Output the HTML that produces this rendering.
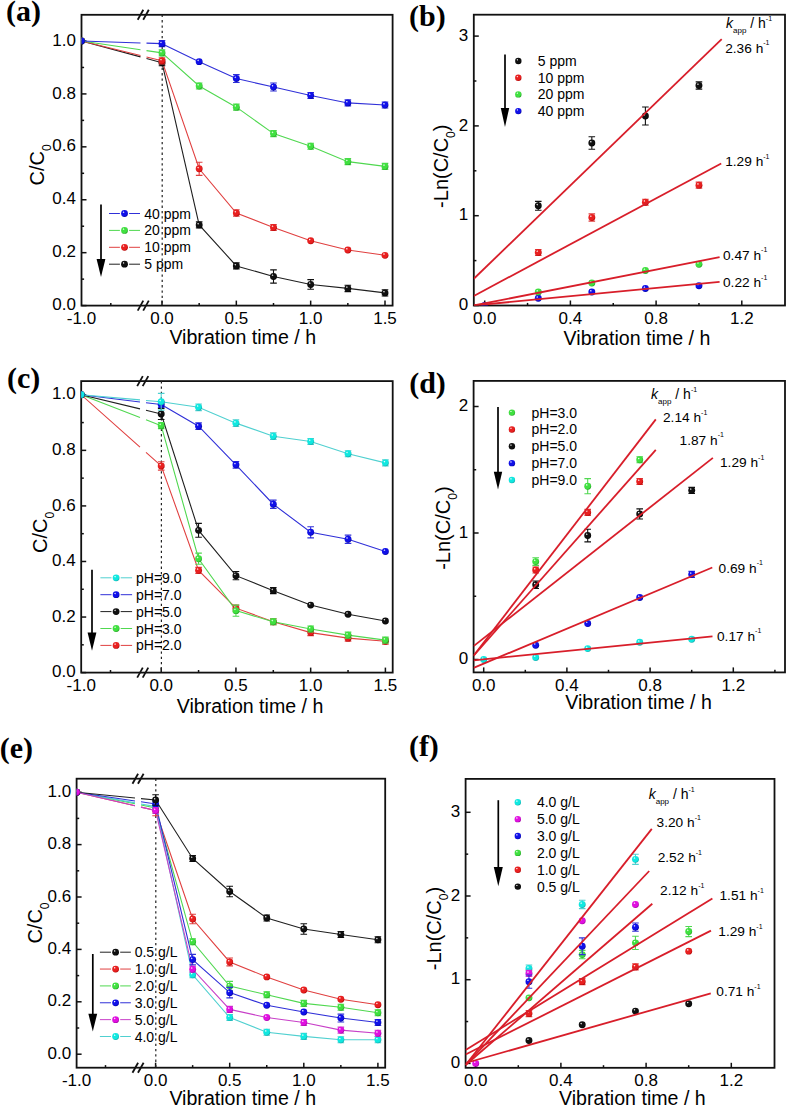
<!DOCTYPE html>
<html><head><meta charset="utf-8"><style>html,body{margin:0;padding:0;background:#fff;width:787px;height:1106px;overflow:hidden;position:relative}</style></head><body>
<svg width="787" height="1106" viewBox="0 0 787 1106" style="position:absolute;left:0;top:0">
<defs><radialGradient id="g_blue" cx="0.42" cy="0.4" r="0.62" fx="0.34" fy="0.3"><stop offset="0" stop-color="#ffffff" stop-opacity="0.95"/><stop offset="0.28" stop-color="#1010e8"/><stop offset="0.75" stop-color="#1010e8"/><stop offset="1" stop-color="#0000a0"/></radialGradient><radialGradient id="g_green" cx="0.42" cy="0.4" r="0.62" fx="0.34" fy="0.3"><stop offset="0" stop-color="#ffffff" stop-opacity="0.95"/><stop offset="0.28" stop-color="#40e040"/><stop offset="0.75" stop-color="#40e040"/><stop offset="1" stop-color="#20a020"/></radialGradient><radialGradient id="g_red" cx="0.42" cy="0.4" r="0.62" fx="0.34" fy="0.3"><stop offset="0" stop-color="#ffffff" stop-opacity="0.95"/><stop offset="0.28" stop-color="#e82020"/><stop offset="0.75" stop-color="#e82020"/><stop offset="1" stop-color="#b00000"/></radialGradient><radialGradient id="g_black" cx="0.42" cy="0.4" r="0.62" fx="0.34" fy="0.3"><stop offset="0" stop-color="#ffffff" stop-opacity="0.95"/><stop offset="0.28" stop-color="#101010"/><stop offset="0.75" stop-color="#101010"/><stop offset="1" stop-color="#000000"/></radialGradient><radialGradient id="g_cyan" cx="0.42" cy="0.4" r="0.62" fx="0.34" fy="0.3"><stop offset="0" stop-color="#ffffff" stop-opacity="0.95"/><stop offset="0.28" stop-color="#10e8e0"/><stop offset="0.75" stop-color="#10e8e0"/><stop offset="1" stop-color="#10a8a8"/></radialGradient><radialGradient id="g_mag" cx="0.42" cy="0.4" r="0.62" fx="0.34" fy="0.3"><stop offset="0" stop-color="#ffffff" stop-opacity="0.95"/><stop offset="0.28" stop-color="#e010e0"/><stop offset="0.75" stop-color="#e010e0"/><stop offset="1" stop-color="#a000a0"/></radialGradient></defs>
<rect width="787" height="1106" fill="#fff"/>
<text x="5.90" y="21.00" font-family='"Liberation Serif", serif' font-size="30" text-anchor="start" font-weight="bold" font-style="normal" >(a)</text>
<rect x="81.50" y="14.80" width="311.10" height="290.80" fill="none" stroke="#111111" stroke-width="1.8"/>
<line x1="81.50" y1="305.60" x2="86.50" y2="305.60" stroke="#111111" stroke-width="1.5"/>
<text x="76.00" y="310.20" font-family='"Liberation Sans", sans-serif' font-size="17" text-anchor="end" font-weight="normal" font-style="normal" >0.0</text>
<line x1="81.50" y1="252.68" x2="86.50" y2="252.68" stroke="#111111" stroke-width="1.5"/>
<text x="76.00" y="257.28" font-family='"Liberation Sans", sans-serif' font-size="17" text-anchor="end" font-weight="normal" font-style="normal" >0.2</text>
<line x1="81.50" y1="199.76" x2="86.50" y2="199.76" stroke="#111111" stroke-width="1.5"/>
<text x="76.00" y="204.36" font-family='"Liberation Sans", sans-serif' font-size="17" text-anchor="end" font-weight="normal" font-style="normal" >0.4</text>
<line x1="81.50" y1="146.84" x2="86.50" y2="146.84" stroke="#111111" stroke-width="1.5"/>
<text x="76.00" y="151.44" font-family='"Liberation Sans", sans-serif' font-size="17" text-anchor="end" font-weight="normal" font-style="normal" >0.6</text>
<line x1="81.50" y1="93.92" x2="86.50" y2="93.92" stroke="#111111" stroke-width="1.5"/>
<text x="76.00" y="98.52" font-family='"Liberation Sans", sans-serif' font-size="17" text-anchor="end" font-weight="normal" font-style="normal" >0.8</text>
<line x1="81.50" y1="41.00" x2="86.50" y2="41.00" stroke="#111111" stroke-width="1.5"/>
<text x="76.00" y="45.60" font-family='"Liberation Sans", sans-serif' font-size="17" text-anchor="end" font-weight="normal" font-style="normal" >1.0</text>
<line x1="81.50" y1="279.14" x2="84.10" y2="279.14" stroke="#111111" stroke-width="1.5"/>
<line x1="81.50" y1="226.22" x2="84.10" y2="226.22" stroke="#111111" stroke-width="1.5"/>
<line x1="81.50" y1="173.30" x2="84.10" y2="173.30" stroke="#111111" stroke-width="1.5"/>
<line x1="81.50" y1="120.38" x2="84.10" y2="120.38" stroke="#111111" stroke-width="1.5"/>
<line x1="81.50" y1="67.46" x2="84.10" y2="67.46" stroke="#111111" stroke-width="1.5"/>
<text x="81.50" y="324.10" font-family='"Liberation Sans", sans-serif' font-size="17" text-anchor="middle" font-weight="normal" font-style="normal" >-1.0</text>
<line x1="162.00" y1="305.60" x2="162.00" y2="300.60" stroke="#111111" stroke-width="1.5"/>
<text x="162.00" y="324.10" font-family='"Liberation Sans", sans-serif' font-size="17" text-anchor="middle" font-weight="normal" font-style="normal" >0.0</text>
<line x1="236.33" y1="305.60" x2="236.33" y2="300.60" stroke="#111111" stroke-width="1.5"/>
<text x="236.33" y="324.10" font-family='"Liberation Sans", sans-serif' font-size="17" text-anchor="middle" font-weight="normal" font-style="normal" >0.5</text>
<line x1="310.67" y1="305.60" x2="310.67" y2="300.60" stroke="#111111" stroke-width="1.5"/>
<text x="310.67" y="324.10" font-family='"Liberation Sans", sans-serif' font-size="17" text-anchor="middle" font-weight="normal" font-style="normal" >1.0</text>
<line x1="385.00" y1="305.60" x2="385.00" y2="300.60" stroke="#111111" stroke-width="1.5"/>
<text x="385.00" y="324.10" font-family='"Liberation Sans", sans-serif' font-size="17" text-anchor="middle" font-weight="normal" font-style="normal" >1.5</text>
<line x1="199.17" y1="305.60" x2="199.17" y2="303.00" stroke="#111111" stroke-width="1.5"/>
<line x1="273.50" y1="305.60" x2="273.50" y2="303.00" stroke="#111111" stroke-width="1.5"/>
<line x1="347.84" y1="305.60" x2="347.84" y2="303.00" stroke="#111111" stroke-width="1.5"/>
<line x1="110.80" y1="305.60" x2="110.80" y2="303.00" stroke="#111111" stroke-width="1.5"/>
<line x1="162.20" y1="14.80" x2="162.20" y2="305.60" stroke="#222" stroke-width="1.2" stroke-dasharray="2.3,3.0"/>
<line x1="137.70" y1="19.80" x2="143.30" y2="9.80" stroke="#111111" stroke-width="1.8"/>
<line x1="143.20" y1="19.80" x2="148.80" y2="9.80" stroke="#111111" stroke-width="1.8"/>
<line x1="137.70" y1="310.60" x2="143.30" y2="300.60" stroke="#111111" stroke-width="1.8"/>
<line x1="143.20" y1="310.60" x2="148.80" y2="300.60" stroke="#111111" stroke-width="1.8"/>
<text x="169.40" y="343.60" font-family='"Liberation Sans", sans-serif' font-size="20" text-anchor="start" font-weight="normal" font-style="normal" textLength="146.7" lengthAdjust="spacingAndGlyphs">Vibration time / h</text>
<text transform="translate(43.90,185.40) rotate(-90)" font-family='"Liberation Sans", sans-serif' font-size="20" text-anchor="start">C/C<tspan font-size="12" dy="7">0</tspan></text>
<clipPath id="cp1"><rect x="81.50" y="14.80" width="311.10" height="290.80"/></clipPath><g clip-path="url(#cp1)">
<path d="M81.50 41.00L140.50 56.90M146.50 58.52L162.00 62.70" stroke="#202020" stroke-width="1.1" fill="none"/>
<path d="M162.00 62.70 L199.17 224.90 L236.33 265.91 L273.50 276.49 L310.67 284.43 L347.84 288.40 L385.00 292.90" stroke="#202020" stroke-width="1.1" fill="none"/>
<path d="M81.50 41.00L140.50 55.54M146.50 57.02L162.00 60.84" stroke="#e04040" stroke-width="1.1" fill="none"/>
<path d="M162.00 60.84 L199.17 168.80 L236.33 212.99 L273.50 227.54 L310.67 240.77 L347.84 250.03 L385.00 255.33" stroke="#e04040" stroke-width="1.1" fill="none"/>
<path d="M81.50 41.00L140.50 49.73M146.50 50.61L162.00 52.91" stroke="#50d850" stroke-width="1.1" fill="none"/>
<path d="M162.00 52.91 L199.17 85.98 L236.33 107.15 L273.50 133.61 L310.67 146.31 L347.84 161.66 L385.00 166.42" stroke="#50d850" stroke-width="1.1" fill="none"/>
<path d="M81.50 41.00L140.50 42.94M146.50 43.14L162.00 43.65" stroke="#3030d8" stroke-width="1.1" fill="none"/>
<path d="M162.00 43.65 L199.17 61.64 L236.33 78.57 L273.50 87.04 L310.67 95.51 L347.84 102.92 L385.00 105.03" stroke="#3030d8" stroke-width="1.1" fill="none"/>
<circle cx="81.50" cy="41.00" r="3.45" fill="url(#g_black)"/>
<path d="M162.00 59.70V65.70M158.70 59.70H165.30M158.70 65.70H165.30" stroke="#111111" stroke-width="1.1" fill="none"/>
<circle cx="162.00" cy="62.70" r="3.45" fill="url(#g_black)"/>
<path d="M199.17 221.90V227.90M195.87 221.90H202.47M195.87 227.90H202.47" stroke="#111111" stroke-width="1.1" fill="none"/>
<circle cx="199.17" cy="224.90" r="3.45" fill="url(#g_black)"/>
<path d="M236.33 262.91V268.91M233.03 262.91H239.63M233.03 268.91H239.63" stroke="#111111" stroke-width="1.1" fill="none"/>
<circle cx="236.33" cy="265.91" r="3.45" fill="url(#g_black)"/>
<path d="M273.50 269.88V283.11M270.20 269.88H276.80M270.20 283.11H276.80" stroke="#111111" stroke-width="1.1" fill="none"/>
<circle cx="273.50" cy="276.49" r="3.45" fill="url(#g_black)"/>
<path d="M310.67 279.67V289.19M307.37 279.67H313.97M307.37 289.19H313.97" stroke="#111111" stroke-width="1.1" fill="none"/>
<circle cx="310.67" cy="284.43" r="3.45" fill="url(#g_black)"/>
<path d="M347.84 285.23V291.58M344.54 285.23H351.14M344.54 291.58H351.14" stroke="#111111" stroke-width="1.1" fill="none"/>
<circle cx="347.84" cy="288.40" r="3.45" fill="url(#g_black)"/>
<path d="M385.00 289.72V296.07M381.70 289.72H388.31M381.70 296.07H388.31" stroke="#111111" stroke-width="1.1" fill="none"/>
<circle cx="385.00" cy="292.90" r="3.45" fill="url(#g_black)"/>
<circle cx="81.50" cy="41.00" r="3.45" fill="url(#g_red)"/>
<path d="M162.00 57.84V63.84M158.70 57.84H165.30M158.70 63.84H165.30" stroke="#e04040" stroke-width="1.1" fill="none"/>
<circle cx="162.00" cy="60.84" r="3.45" fill="url(#g_red)"/>
<path d="M199.17 162.19V175.42M195.87 162.19H202.47M195.87 175.42H202.47" stroke="#e04040" stroke-width="1.1" fill="none"/>
<circle cx="199.17" cy="168.80" r="3.45" fill="url(#g_red)"/>
<path d="M236.33 209.81V216.17M233.03 209.81H239.63M233.03 216.17H239.63" stroke="#e04040" stroke-width="1.1" fill="none"/>
<circle cx="236.33" cy="212.99" r="3.45" fill="url(#g_red)"/>
<path d="M273.50 224.54V230.54M270.20 224.54H276.80M270.20 230.54H276.80" stroke="#e04040" stroke-width="1.1" fill="none"/>
<circle cx="273.50" cy="227.54" r="3.45" fill="url(#g_red)"/>
<circle cx="310.67" cy="240.77" r="3.45" fill="url(#g_red)"/>
<circle cx="347.84" cy="250.03" r="3.45" fill="url(#g_red)"/>
<circle cx="385.00" cy="255.33" r="3.45" fill="url(#g_red)"/>
<circle cx="81.50" cy="41.00" r="3.45" fill="url(#g_green)"/>
<path d="M162.00 49.91V55.91M158.70 49.91H165.30M158.70 55.91H165.30" stroke="#50d850" stroke-width="1.1" fill="none"/>
<circle cx="162.00" cy="52.91" r="3.45" fill="url(#g_green)"/>
<path d="M199.17 82.98V88.98M195.87 82.98H202.47M195.87 88.98H202.47" stroke="#50d850" stroke-width="1.1" fill="none"/>
<circle cx="199.17" cy="85.98" r="3.45" fill="url(#g_green)"/>
<path d="M236.33 104.15V110.15M233.03 104.15H239.63M233.03 110.15H239.63" stroke="#50d850" stroke-width="1.1" fill="none"/>
<circle cx="236.33" cy="107.15" r="3.45" fill="url(#g_green)"/>
<path d="M273.50 130.61V136.61M270.20 130.61H276.80M270.20 136.61H276.80" stroke="#50d850" stroke-width="1.1" fill="none"/>
<circle cx="273.50" cy="133.61" r="3.45" fill="url(#g_green)"/>
<path d="M310.67 143.31V149.31M307.37 143.31H313.97M307.37 149.31H313.97" stroke="#50d850" stroke-width="1.1" fill="none"/>
<circle cx="310.67" cy="146.31" r="3.45" fill="url(#g_green)"/>
<path d="M347.84 158.66V164.66M344.54 158.66H351.14M344.54 164.66H351.14" stroke="#50d850" stroke-width="1.1" fill="none"/>
<circle cx="347.84" cy="161.66" r="3.45" fill="url(#g_green)"/>
<path d="M385.00 163.42V169.42M381.70 163.42H388.31M381.70 169.42H388.31" stroke="#50d850" stroke-width="1.1" fill="none"/>
<circle cx="385.00" cy="166.42" r="3.45" fill="url(#g_green)"/>
<circle cx="81.50" cy="41.00" r="3.45" fill="url(#g_blue)"/>
<path d="M162.00 40.65V46.65M158.70 40.65H165.30M158.70 46.65H165.30" stroke="#3030d8" stroke-width="1.1" fill="none"/>
<circle cx="162.00" cy="43.65" r="3.45" fill="url(#g_blue)"/>
<circle cx="199.17" cy="61.64" r="3.45" fill="url(#g_blue)"/>
<path d="M236.33 74.60V82.54M233.03 74.60H239.63M233.03 82.54H239.63" stroke="#3030d8" stroke-width="1.1" fill="none"/>
<circle cx="236.33" cy="78.57" r="3.45" fill="url(#g_blue)"/>
<path d="M273.50 83.07V91.01M270.20 83.07H276.80M270.20 91.01H276.80" stroke="#3030d8" stroke-width="1.1" fill="none"/>
<circle cx="273.50" cy="87.04" r="3.45" fill="url(#g_blue)"/>
<path d="M310.67 92.51V98.51M307.37 92.51H313.97M307.37 98.51H313.97" stroke="#3030d8" stroke-width="1.1" fill="none"/>
<circle cx="310.67" cy="95.51" r="3.45" fill="url(#g_blue)"/>
<path d="M347.84 99.92V105.92M344.54 99.92H351.14M344.54 105.92H351.14" stroke="#3030d8" stroke-width="1.1" fill="none"/>
<circle cx="347.84" cy="102.92" r="3.45" fill="url(#g_blue)"/>
<path d="M385.00 102.03V108.03M381.70 102.03H388.31M381.70 108.03H388.31" stroke="#3030d8" stroke-width="1.1" fill="none"/>
<circle cx="385.00" cy="105.03" r="3.45" fill="url(#g_blue)"/>
</g>
<line x1="101.00" y1="204.60" x2="101.00" y2="261.00" stroke="#000" stroke-width="1.7"/>
<polygon points="96.60,259.00 105.40,259.00 101.00,277.00" fill="#000"/>
<path d="M109.00 213.50H119.90M129.10 213.50H140.00" stroke="#3030d8" stroke-width="1.0" fill="none"/>
<circle cx="124.50" cy="213.50" r="3.4" fill="url(#g_blue)"/>
<text x="144.30" y="218.50" font-family='"Liberation Sans", sans-serif' font-size="14" text-anchor="start" font-weight="normal" font-style="normal" >40 ppm</text>
<path d="M109.00 230.40H119.90M129.10 230.40H140.00" stroke="#50d850" stroke-width="1.0" fill="none"/>
<circle cx="124.50" cy="230.40" r="3.4" fill="url(#g_green)"/>
<text x="144.30" y="235.40" font-family='"Liberation Sans", sans-serif' font-size="14" text-anchor="start" font-weight="normal" font-style="normal" >20 ppm</text>
<path d="M109.00 247.30H119.90M129.10 247.30H140.00" stroke="#e04040" stroke-width="1.0" fill="none"/>
<circle cx="124.50" cy="247.30" r="3.4" fill="url(#g_red)"/>
<text x="144.30" y="252.30" font-family='"Liberation Sans", sans-serif' font-size="14" text-anchor="start" font-weight="normal" font-style="normal" >10 ppm</text>
<path d="M109.00 264.20H119.90M129.10 264.20H140.00" stroke="#202020" stroke-width="1.0" fill="none"/>
<circle cx="124.50" cy="264.20" r="3.4" fill="url(#g_black)"/>
<text x="144.30" y="269.20" font-family='"Liberation Sans", sans-serif' font-size="14" text-anchor="start" font-weight="normal" font-style="normal" >5 ppm</text>
<text x="7.00" y="388.40" font-family='"Liberation Serif", serif' font-size="30" text-anchor="start" font-weight="bold" font-style="normal" >(c)</text>
<rect x="81.20" y="381.10" width="311.50" height="291.50" fill="none" stroke="#111111" stroke-width="1.8"/>
<line x1="81.20" y1="672.60" x2="86.20" y2="672.60" stroke="#111111" stroke-width="1.5"/>
<text x="75.70" y="677.20" font-family='"Liberation Sans", sans-serif' font-size="17" text-anchor="end" font-weight="normal" font-style="normal" >0.0</text>
<line x1="81.20" y1="617.04" x2="86.20" y2="617.04" stroke="#111111" stroke-width="1.5"/>
<text x="75.70" y="621.64" font-family='"Liberation Sans", sans-serif' font-size="17" text-anchor="end" font-weight="normal" font-style="normal" >0.2</text>
<line x1="81.20" y1="561.48" x2="86.20" y2="561.48" stroke="#111111" stroke-width="1.5"/>
<text x="75.70" y="566.08" font-family='"Liberation Sans", sans-serif' font-size="17" text-anchor="end" font-weight="normal" font-style="normal" >0.4</text>
<line x1="81.20" y1="505.92" x2="86.20" y2="505.92" stroke="#111111" stroke-width="1.5"/>
<text x="75.70" y="510.52" font-family='"Liberation Sans", sans-serif' font-size="17" text-anchor="end" font-weight="normal" font-style="normal" >0.6</text>
<line x1="81.20" y1="450.36" x2="86.20" y2="450.36" stroke="#111111" stroke-width="1.5"/>
<text x="75.70" y="454.96" font-family='"Liberation Sans", sans-serif' font-size="17" text-anchor="end" font-weight="normal" font-style="normal" >0.8</text>
<line x1="81.20" y1="394.80" x2="86.20" y2="394.80" stroke="#111111" stroke-width="1.5"/>
<text x="75.70" y="399.40" font-family='"Liberation Sans", sans-serif' font-size="17" text-anchor="end" font-weight="normal" font-style="normal" >1.0</text>
<line x1="81.20" y1="644.82" x2="83.80" y2="644.82" stroke="#111111" stroke-width="1.5"/>
<line x1="81.20" y1="589.26" x2="83.80" y2="589.26" stroke="#111111" stroke-width="1.5"/>
<line x1="81.20" y1="533.70" x2="83.80" y2="533.70" stroke="#111111" stroke-width="1.5"/>
<line x1="81.20" y1="478.14" x2="83.80" y2="478.14" stroke="#111111" stroke-width="1.5"/>
<line x1="81.20" y1="422.58" x2="83.80" y2="422.58" stroke="#111111" stroke-width="1.5"/>
<text x="81.20" y="691.10" font-family='"Liberation Sans", sans-serif' font-size="17" text-anchor="middle" font-weight="normal" font-style="normal" >-1.0</text>
<line x1="161.20" y1="672.60" x2="161.20" y2="667.60" stroke="#111111" stroke-width="1.5"/>
<text x="161.20" y="691.10" font-family='"Liberation Sans", sans-serif' font-size="17" text-anchor="middle" font-weight="normal" font-style="normal" >0.0</text>
<line x1="235.94" y1="672.60" x2="235.94" y2="667.60" stroke="#111111" stroke-width="1.5"/>
<text x="235.94" y="691.10" font-family='"Liberation Sans", sans-serif' font-size="17" text-anchor="middle" font-weight="normal" font-style="normal" >0.5</text>
<line x1="310.67" y1="672.60" x2="310.67" y2="667.60" stroke="#111111" stroke-width="1.5"/>
<text x="310.67" y="691.10" font-family='"Liberation Sans", sans-serif' font-size="17" text-anchor="middle" font-weight="normal" font-style="normal" >1.0</text>
<line x1="385.40" y1="672.60" x2="385.40" y2="667.60" stroke="#111111" stroke-width="1.5"/>
<text x="385.40" y="691.10" font-family='"Liberation Sans", sans-serif' font-size="17" text-anchor="middle" font-weight="normal" font-style="normal" >1.5</text>
<line x1="198.57" y1="672.60" x2="198.57" y2="670.00" stroke="#111111" stroke-width="1.5"/>
<line x1="273.30" y1="672.60" x2="273.30" y2="670.00" stroke="#111111" stroke-width="1.5"/>
<line x1="348.04" y1="672.60" x2="348.04" y2="670.00" stroke="#111111" stroke-width="1.5"/>
<line x1="110.50" y1="672.60" x2="110.50" y2="670.00" stroke="#111111" stroke-width="1.5"/>
<line x1="161.40" y1="381.10" x2="161.40" y2="672.60" stroke="#222" stroke-width="1.2" stroke-dasharray="2.3,3.0"/>
<line x1="137.20" y1="386.10" x2="142.80" y2="376.10" stroke="#111111" stroke-width="1.8"/>
<line x1="142.70" y1="386.10" x2="148.30" y2="376.10" stroke="#111111" stroke-width="1.8"/>
<line x1="137.20" y1="677.60" x2="142.80" y2="667.60" stroke="#111111" stroke-width="1.8"/>
<line x1="142.70" y1="677.60" x2="148.30" y2="667.60" stroke="#111111" stroke-width="1.8"/>
<text x="176.70" y="712.50" font-family='"Liberation Sans", sans-serif' font-size="20" text-anchor="start" font-weight="normal" font-style="normal" textLength="146.7" lengthAdjust="spacingAndGlyphs">Vibration time / h</text>
<text transform="translate(46.90,553.00) rotate(-90)" font-family='"Liberation Sans", sans-serif' font-size="20" text-anchor="start">C/C<tspan font-size="12" dy="7">0</tspan></text>
<clipPath id="cp2"><rect x="81.20" y="381.10" width="311.50" height="291.50"/></clipPath><g clip-path="url(#cp2)">
<path d="M81.20 394.80L140.00 447.07M146.00 452.40L161.20 465.92" stroke="#e04040" stroke-width="1.1" fill="none"/>
<path d="M161.20 465.92 L198.57 570.37 L235.94 608.15 L273.30 621.76 L310.67 632.60 L348.04 638.15 L385.40 641.21" stroke="#e04040" stroke-width="1.1" fill="none"/>
<path d="M81.20 394.80L140.00 417.46M146.00 419.78L161.20 425.64" stroke="#50d850" stroke-width="1.1" fill="none"/>
<path d="M161.20 425.64 L198.57 558.70 L235.94 610.65 L273.30 621.76 L310.67 628.99 L348.04 635.10 L385.40 640.10" stroke="#50d850" stroke-width="1.1" fill="none"/>
<path d="M81.20 394.80L140.00 408.89M146.00 410.33L161.20 413.97" stroke="#202020" stroke-width="1.1" fill="none"/>
<path d="M161.20 413.97 L198.57 530.37 L235.94 575.65 L273.30 590.65 L310.67 605.09 L348.04 614.26 L385.40 620.93" stroke="#202020" stroke-width="1.1" fill="none"/>
<path d="M81.20 394.80L140.00 401.95M146.00 402.68L161.20 404.52" stroke="#3030d8" stroke-width="1.1" fill="none"/>
<path d="M161.20 404.52 L198.57 426.19 L235.94 464.81 L273.30 504.25 L310.67 532.31 L348.04 539.26 L385.40 551.48" stroke="#3030d8" stroke-width="1.1" fill="none"/>
<path d="M81.20 394.80L140.00 399.90M146.00 400.43L161.20 401.75" stroke="#50d0d0" stroke-width="1.1" fill="none"/>
<path d="M161.20 401.75 L198.57 407.30 L235.94 423.14 L273.30 436.19 L310.67 441.47 L348.04 453.69 L385.40 462.86" stroke="#50d0d0" stroke-width="1.1" fill="none"/>
<circle cx="81.20" cy="394.80" r="3.45" fill="url(#g_red)"/>
<path d="M161.20 461.75V470.08M157.90 461.75H164.50M157.90 470.08H164.50" stroke="#e04040" stroke-width="1.1" fill="none"/>
<circle cx="161.20" cy="465.92" r="3.45" fill="url(#g_red)"/>
<path d="M198.57 567.37V573.37M195.27 567.37H201.87M195.27 573.37H201.87" stroke="#e04040" stroke-width="1.1" fill="none"/>
<circle cx="198.57" cy="570.37" r="3.45" fill="url(#g_red)"/>
<path d="M235.94 605.15V611.15M232.63 605.15H239.24M232.63 611.15H239.24" stroke="#e04040" stroke-width="1.1" fill="none"/>
<circle cx="235.94" cy="608.15" r="3.45" fill="url(#g_red)"/>
<path d="M273.30 618.76V624.76M270.00 618.76H276.60M270.00 624.76H276.60" stroke="#e04040" stroke-width="1.1" fill="none"/>
<circle cx="273.30" cy="621.76" r="3.45" fill="url(#g_red)"/>
<path d="M310.67 629.60V635.60M307.37 629.60H313.97M307.37 635.60H313.97" stroke="#e04040" stroke-width="1.1" fill="none"/>
<circle cx="310.67" cy="632.60" r="3.45" fill="url(#g_red)"/>
<path d="M348.04 635.15V641.15M344.74 635.15H351.34M344.74 641.15H351.34" stroke="#e04040" stroke-width="1.1" fill="none"/>
<circle cx="348.04" cy="638.15" r="3.45" fill="url(#g_red)"/>
<path d="M385.40 638.21V644.21M382.10 638.21H388.70M382.10 644.21H388.70" stroke="#e04040" stroke-width="1.1" fill="none"/>
<circle cx="385.40" cy="641.21" r="3.45" fill="url(#g_red)"/>
<circle cx="81.20" cy="394.80" r="3.45" fill="url(#g_green)"/>
<path d="M161.20 422.64V428.64M157.90 422.64H164.50M157.90 428.64H164.50" stroke="#50d850" stroke-width="1.1" fill="none"/>
<circle cx="161.20" cy="425.64" r="3.45" fill="url(#g_green)"/>
<path d="M198.57 553.15V564.26M195.27 553.15H201.87M195.27 564.26H201.87" stroke="#50d850" stroke-width="1.1" fill="none"/>
<circle cx="198.57" cy="558.70" r="3.45" fill="url(#g_green)"/>
<path d="M235.94 605.09V616.21M232.63 605.09H239.24M232.63 616.21H239.24" stroke="#50d850" stroke-width="1.1" fill="none"/>
<circle cx="235.94" cy="610.65" r="3.45" fill="url(#g_green)"/>
<path d="M273.30 618.76V624.76M270.00 618.76H276.60M270.00 624.76H276.60" stroke="#50d850" stroke-width="1.1" fill="none"/>
<circle cx="273.30" cy="621.76" r="3.45" fill="url(#g_green)"/>
<path d="M310.67 625.99V631.99M307.37 625.99H313.97M307.37 631.99H313.97" stroke="#50d850" stroke-width="1.1" fill="none"/>
<circle cx="310.67" cy="628.99" r="3.45" fill="url(#g_green)"/>
<path d="M348.04 632.10V638.10M344.74 632.10H351.34M344.74 638.10H351.34" stroke="#50d850" stroke-width="1.1" fill="none"/>
<circle cx="348.04" cy="635.10" r="3.45" fill="url(#g_green)"/>
<path d="M385.40 637.10V643.10M382.10 637.10H388.70M382.10 643.10H388.70" stroke="#50d850" stroke-width="1.1" fill="none"/>
<circle cx="385.40" cy="640.10" r="3.45" fill="url(#g_green)"/>
<circle cx="81.20" cy="394.80" r="3.45" fill="url(#g_black)"/>
<path d="M161.20 408.41V419.52M157.90 408.41H164.50M157.90 419.52H164.50" stroke="#111111" stroke-width="1.1" fill="none"/>
<circle cx="161.20" cy="413.97" r="3.45" fill="url(#g_black)"/>
<path d="M198.57 523.42V537.31M195.27 523.42H201.87M195.27 537.31H201.87" stroke="#111111" stroke-width="1.1" fill="none"/>
<circle cx="198.57" cy="530.37" r="3.45" fill="url(#g_black)"/>
<path d="M235.94 571.48V579.81M232.63 571.48H239.24M232.63 579.81H239.24" stroke="#111111" stroke-width="1.1" fill="none"/>
<circle cx="235.94" cy="575.65" r="3.45" fill="url(#g_black)"/>
<path d="M273.30 587.65V593.65M270.00 587.65H276.60M270.00 593.65H276.60" stroke="#111111" stroke-width="1.1" fill="none"/>
<circle cx="273.30" cy="590.65" r="3.45" fill="url(#g_black)"/>
<circle cx="310.67" cy="605.09" r="3.45" fill="url(#g_black)"/>
<circle cx="348.04" cy="614.26" r="3.45" fill="url(#g_black)"/>
<circle cx="385.40" cy="620.93" r="3.45" fill="url(#g_black)"/>
<circle cx="81.20" cy="394.80" r="3.45" fill="url(#g_blue)"/>
<path d="M161.20 401.52V407.52M157.90 401.52H164.50M157.90 407.52H164.50" stroke="#3030d8" stroke-width="1.1" fill="none"/>
<circle cx="161.20" cy="404.52" r="3.45" fill="url(#g_blue)"/>
<path d="M198.57 422.86V429.53M195.27 422.86H201.87M195.27 429.53H201.87" stroke="#3030d8" stroke-width="1.1" fill="none"/>
<circle cx="198.57" cy="426.19" r="3.45" fill="url(#g_blue)"/>
<path d="M235.94 461.47V468.14M232.63 461.47H239.24M232.63 468.14H239.24" stroke="#3030d8" stroke-width="1.1" fill="none"/>
<circle cx="235.94" cy="464.81" r="3.45" fill="url(#g_blue)"/>
<path d="M273.30 500.09V508.42M270.00 500.09H276.60M270.00 508.42H276.60" stroke="#3030d8" stroke-width="1.1" fill="none"/>
<circle cx="273.30" cy="504.25" r="3.45" fill="url(#g_blue)"/>
<path d="M310.67 526.75V537.87M307.37 526.75H313.97M307.37 537.87H313.97" stroke="#3030d8" stroke-width="1.1" fill="none"/>
<circle cx="310.67" cy="532.31" r="3.45" fill="url(#g_blue)"/>
<path d="M348.04 535.09V543.42M344.74 535.09H351.34M344.74 543.42H351.34" stroke="#3030d8" stroke-width="1.1" fill="none"/>
<circle cx="348.04" cy="539.26" r="3.45" fill="url(#g_blue)"/>
<circle cx="385.40" cy="551.48" r="3.45" fill="url(#g_blue)"/>
<circle cx="81.20" cy="394.80" r="3.45" fill="url(#g_cyan)"/>
<path d="M161.20 393.41V410.08M157.90 393.41H164.50M157.90 410.08H164.50" stroke="#50d0d0" stroke-width="1.1" fill="none"/>
<circle cx="161.20" cy="401.75" r="3.45" fill="url(#g_cyan)"/>
<path d="M198.57 403.97V410.63M195.27 403.97H201.87M195.27 410.63H201.87" stroke="#50d0d0" stroke-width="1.1" fill="none"/>
<circle cx="198.57" cy="407.30" r="3.45" fill="url(#g_cyan)"/>
<path d="M235.94 419.80V426.47M232.63 419.80H239.24M232.63 426.47H239.24" stroke="#50d0d0" stroke-width="1.1" fill="none"/>
<circle cx="235.94" cy="423.14" r="3.45" fill="url(#g_cyan)"/>
<path d="M273.30 432.86V439.53M270.00 432.86H276.60M270.00 439.53H276.60" stroke="#50d0d0" stroke-width="1.1" fill="none"/>
<circle cx="273.30" cy="436.19" r="3.45" fill="url(#g_cyan)"/>
<path d="M310.67 438.47V444.47M307.37 438.47H313.97M307.37 444.47H313.97" stroke="#50d0d0" stroke-width="1.1" fill="none"/>
<circle cx="310.67" cy="441.47" r="3.45" fill="url(#g_cyan)"/>
<path d="M348.04 450.69V456.69M344.74 450.69H351.34M344.74 456.69H351.34" stroke="#50d0d0" stroke-width="1.1" fill="none"/>
<circle cx="348.04" cy="453.69" r="3.45" fill="url(#g_cyan)"/>
<path d="M385.40 459.86V465.86M382.10 459.86H388.70M382.10 465.86H388.70" stroke="#50d0d0" stroke-width="1.1" fill="none"/>
<circle cx="385.40" cy="462.86" r="3.45" fill="url(#g_cyan)"/>
</g>
<line x1="92.00" y1="569.70" x2="92.00" y2="634.40" stroke="#000" stroke-width="1.7"/>
<polygon points="87.60,632.40 96.40,632.40 92.00,650.80" fill="#000"/>
<path d="M100.40 577.80H111.50M120.70 577.80H132.10" stroke="#50d0d0" stroke-width="1.0" fill="none"/>
<circle cx="116.10" cy="577.80" r="3.4" fill="url(#g_cyan)"/>
<text x="136.00" y="582.80" font-family='"Liberation Sans", sans-serif' font-size="14" text-anchor="start" font-weight="normal" font-style="normal" >pH=9.0</text>
<path d="M100.40 594.70H111.50M120.70 594.70H132.10" stroke="#3030d8" stroke-width="1.0" fill="none"/>
<circle cx="116.10" cy="594.70" r="3.4" fill="url(#g_blue)"/>
<text x="136.00" y="599.70" font-family='"Liberation Sans", sans-serif' font-size="14" text-anchor="start" font-weight="normal" font-style="normal" >pH=7.0</text>
<path d="M100.40 611.60H111.50M120.70 611.60H132.10" stroke="#202020" stroke-width="1.0" fill="none"/>
<circle cx="116.10" cy="611.60" r="3.4" fill="url(#g_black)"/>
<text x="136.00" y="616.60" font-family='"Liberation Sans", sans-serif' font-size="14" text-anchor="start" font-weight="normal" font-style="normal" >pH=5.0</text>
<path d="M100.40 628.50H111.50M120.70 628.50H132.10" stroke="#50d850" stroke-width="1.0" fill="none"/>
<circle cx="116.10" cy="628.50" r="3.4" fill="url(#g_green)"/>
<text x="136.00" y="633.50" font-family='"Liberation Sans", sans-serif' font-size="14" text-anchor="start" font-weight="normal" font-style="normal" >pH=3.0</text>
<path d="M100.40 645.40H111.50M120.70 645.40H132.10" stroke="#e04040" stroke-width="1.0" fill="none"/>
<circle cx="116.10" cy="645.40" r="3.4" fill="url(#g_red)"/>
<text x="136.00" y="650.40" font-family='"Liberation Sans", sans-serif' font-size="14" text-anchor="start" font-weight="normal" font-style="normal" >pH=2.0</text>
<text x="-0.20" y="758.00" font-family='"Liberation Serif", serif' font-size="30" text-anchor="start" font-weight="bold" font-style="normal" >(e)</text>
<rect x="76.60" y="778.70" width="308.60" height="289.00" fill="none" stroke="#111111" stroke-width="1.8"/>
<line x1="76.60" y1="1054.20" x2="81.60" y2="1054.20" stroke="#111111" stroke-width="1.5"/>
<text x="71.10" y="1058.80" font-family='"Liberation Sans", sans-serif' font-size="17" text-anchor="end" font-weight="normal" font-style="normal" >0.0</text>
<line x1="76.60" y1="1001.80" x2="81.60" y2="1001.80" stroke="#111111" stroke-width="1.5"/>
<text x="71.10" y="1006.40" font-family='"Liberation Sans", sans-serif' font-size="17" text-anchor="end" font-weight="normal" font-style="normal" >0.2</text>
<line x1="76.60" y1="949.40" x2="81.60" y2="949.40" stroke="#111111" stroke-width="1.5"/>
<text x="71.10" y="954.00" font-family='"Liberation Sans", sans-serif' font-size="17" text-anchor="end" font-weight="normal" font-style="normal" >0.4</text>
<line x1="76.60" y1="897.00" x2="81.60" y2="897.00" stroke="#111111" stroke-width="1.5"/>
<text x="71.10" y="901.60" font-family='"Liberation Sans", sans-serif' font-size="17" text-anchor="end" font-weight="normal" font-style="normal" >0.6</text>
<line x1="76.60" y1="844.60" x2="81.60" y2="844.60" stroke="#111111" stroke-width="1.5"/>
<text x="71.10" y="849.20" font-family='"Liberation Sans", sans-serif' font-size="17" text-anchor="end" font-weight="normal" font-style="normal" >0.8</text>
<line x1="76.60" y1="792.20" x2="81.60" y2="792.20" stroke="#111111" stroke-width="1.5"/>
<text x="71.10" y="796.80" font-family='"Liberation Sans", sans-serif' font-size="17" text-anchor="end" font-weight="normal" font-style="normal" >1.0</text>
<line x1="76.60" y1="1028.00" x2="79.20" y2="1028.00" stroke="#111111" stroke-width="1.5"/>
<line x1="76.60" y1="975.60" x2="79.20" y2="975.60" stroke="#111111" stroke-width="1.5"/>
<line x1="76.60" y1="923.20" x2="79.20" y2="923.20" stroke="#111111" stroke-width="1.5"/>
<line x1="76.60" y1="870.80" x2="79.20" y2="870.80" stroke="#111111" stroke-width="1.5"/>
<line x1="76.60" y1="818.40" x2="79.20" y2="818.40" stroke="#111111" stroke-width="1.5"/>
<text x="76.60" y="1086.20" font-family='"Liberation Sans", sans-serif' font-size="17" text-anchor="middle" font-weight="normal" font-style="normal" >-1.0</text>
<line x1="155.60" y1="1067.70" x2="155.60" y2="1062.70" stroke="#111111" stroke-width="1.5"/>
<text x="155.60" y="1086.20" font-family='"Liberation Sans", sans-serif' font-size="17" text-anchor="middle" font-weight="normal" font-style="normal" >0.0</text>
<line x1="229.70" y1="1067.70" x2="229.70" y2="1062.70" stroke="#111111" stroke-width="1.5"/>
<text x="229.70" y="1086.20" font-family='"Liberation Sans", sans-serif' font-size="17" text-anchor="middle" font-weight="normal" font-style="normal" >0.5</text>
<line x1="303.80" y1="1067.70" x2="303.80" y2="1062.70" stroke="#111111" stroke-width="1.5"/>
<text x="303.80" y="1086.20" font-family='"Liberation Sans", sans-serif' font-size="17" text-anchor="middle" font-weight="normal" font-style="normal" >1.0</text>
<line x1="377.90" y1="1067.70" x2="377.90" y2="1062.70" stroke="#111111" stroke-width="1.5"/>
<text x="377.90" y="1086.20" font-family='"Liberation Sans", sans-serif' font-size="17" text-anchor="middle" font-weight="normal" font-style="normal" >1.5</text>
<line x1="192.65" y1="1067.70" x2="192.65" y2="1065.10" stroke="#111111" stroke-width="1.5"/>
<line x1="266.75" y1="1067.70" x2="266.75" y2="1065.10" stroke="#111111" stroke-width="1.5"/>
<line x1="340.85" y1="1067.70" x2="340.85" y2="1065.10" stroke="#111111" stroke-width="1.5"/>
<line x1="105.50" y1="1067.70" x2="105.50" y2="1065.10" stroke="#111111" stroke-width="1.5"/>
<line x1="155.80" y1="778.70" x2="155.80" y2="1067.70" stroke="#222" stroke-width="1.2" stroke-dasharray="2.3,3.0"/>
<line x1="132.50" y1="783.70" x2="138.10" y2="773.70" stroke="#111111" stroke-width="1.8"/>
<line x1="138.00" y1="783.70" x2="143.60" y2="773.70" stroke="#111111" stroke-width="1.8"/>
<line x1="132.50" y1="1072.70" x2="138.10" y2="1062.70" stroke="#111111" stroke-width="1.8"/>
<line x1="138.00" y1="1072.70" x2="143.60" y2="1062.70" stroke="#111111" stroke-width="1.8"/>
<text x="169.40" y="1104.60" font-family='"Liberation Sans", sans-serif' font-size="20" text-anchor="start" font-weight="normal" font-style="normal" textLength="146.7" lengthAdjust="spacingAndGlyphs">Vibration time / h</text>
<text transform="translate(42.20,943.60) rotate(-90)" font-family='"Liberation Sans", sans-serif' font-size="20" text-anchor="start">C/C<tspan font-size="12" dy="7">0</tspan></text>
<clipPath id="cp3"><rect x="76.60" y="778.70" width="308.60" height="289.00"/></clipPath><g clip-path="url(#cp3)">
<path d="M76.60 792.20L135.00 805.76M141.00 807.15L155.60 810.54" stroke="#e04040" stroke-width="1.1" fill="none"/>
<path d="M155.60 810.54 L192.65 919.01 L229.70 961.98 L266.75 976.91 L303.80 990.01 L340.85 999.18 L377.90 1004.68" stroke="#e04040" stroke-width="1.1" fill="none"/>
<path d="M76.60 792.20L135.00 803.82M141.00 805.01L155.60 807.92" stroke="#50d850" stroke-width="1.1" fill="none"/>
<path d="M155.60 807.92 L192.65 941.80 L229.70 986.08 L266.75 994.73 L303.80 1003.37 L340.85 1007.30 L377.90 1012.80" stroke="#50d850" stroke-width="1.1" fill="none"/>
<path d="M76.60 792.20L135.00 802.85M141.00 803.95L155.60 806.61" stroke="#50d0d0" stroke-width="1.1" fill="none"/>
<path d="M155.60 806.61 L192.65 974.81 L229.70 1017.52 L266.75 1032.19 L303.80 1036.38 L340.85 1039.79 L377.90 1039.79" stroke="#50d0d0" stroke-width="1.1" fill="none"/>
<path d="M76.60 792.20L135.00 800.92M141.00 801.81L155.60 803.99" stroke="#3030d8" stroke-width="1.1" fill="none"/>
<path d="M155.60 803.99 L192.65 959.62 L229.70 992.63 L266.75 1005.21 L303.80 1012.02 L340.85 1018.04 L377.90 1022.50" stroke="#3030d8" stroke-width="1.1" fill="none"/>
<path d="M76.60 792.20L135.00 798.01M141.00 798.61L155.60 800.06" stroke="#202020" stroke-width="1.1" fill="none"/>
<path d="M155.60 800.06 L192.65 858.49 L229.70 891.50 L266.75 917.96 L303.80 928.96 L340.85 934.47 L377.90 939.71" stroke="#202020" stroke-width="1.1" fill="none"/>
<path d="M76.60 792.20L135.00 805.76M141.00 807.15L155.60 810.54" stroke="#c840c8" stroke-width="1.1" fill="none"/>
<path d="M155.60 810.54 L192.65 969.31 L229.70 1009.40 L266.75 1017.52 L303.80 1022.50 L340.85 1030.10 L377.90 1033.24" stroke="#c840c8" stroke-width="1.1" fill="none"/>
<circle cx="76.60" cy="792.20" r="3.45" fill="url(#g_red)"/>
<path d="M155.60 805.30V815.78M152.30 805.30H158.90M152.30 815.78H158.90" stroke="#e04040" stroke-width="1.1" fill="none"/>
<circle cx="155.60" cy="810.54" r="3.45" fill="url(#g_red)"/>
<path d="M192.65 914.29V923.72M189.35 914.29H195.95M189.35 923.72H195.95" stroke="#e04040" stroke-width="1.1" fill="none"/>
<circle cx="192.65" cy="919.01" r="3.45" fill="url(#g_red)"/>
<path d="M229.70 958.05V965.91M226.40 958.05H233.00M226.40 965.91H233.00" stroke="#e04040" stroke-width="1.1" fill="none"/>
<circle cx="229.70" cy="961.98" r="3.45" fill="url(#g_red)"/>
<circle cx="266.75" cy="976.91" r="3.45" fill="url(#g_red)"/>
<circle cx="303.80" cy="990.01" r="3.45" fill="url(#g_red)"/>
<circle cx="340.85" cy="999.18" r="3.45" fill="url(#g_red)"/>
<circle cx="377.90" cy="1004.68" r="3.45" fill="url(#g_red)"/>
<circle cx="76.60" cy="792.20" r="3.45" fill="url(#g_green)"/>
<path d="M155.60 804.92V810.92M152.30 804.92H158.90M152.30 810.92H158.90" stroke="#50d850" stroke-width="1.1" fill="none"/>
<circle cx="155.60" cy="807.92" r="3.45" fill="url(#g_green)"/>
<path d="M192.65 938.80V944.80M189.35 938.80H195.95M189.35 944.80H195.95" stroke="#50d850" stroke-width="1.1" fill="none"/>
<circle cx="192.65" cy="941.80" r="3.45" fill="url(#g_green)"/>
<path d="M229.70 981.36V990.80M226.40 981.36H233.00M226.40 990.80H233.00" stroke="#50d850" stroke-width="1.1" fill="none"/>
<circle cx="229.70" cy="986.08" r="3.45" fill="url(#g_green)"/>
<path d="M266.75 991.73V997.73M263.45 991.73H270.05M263.45 997.73H270.05" stroke="#50d850" stroke-width="1.1" fill="none"/>
<circle cx="266.75" cy="994.73" r="3.45" fill="url(#g_green)"/>
<path d="M303.80 1000.37V1006.37M300.50 1000.37H307.10M300.50 1006.37H307.10" stroke="#50d850" stroke-width="1.1" fill="none"/>
<circle cx="303.80" cy="1003.37" r="3.45" fill="url(#g_green)"/>
<path d="M340.85 1004.30V1010.30M337.55 1004.30H344.15M337.55 1010.30H344.15" stroke="#50d850" stroke-width="1.1" fill="none"/>
<circle cx="340.85" cy="1007.30" r="3.45" fill="url(#g_green)"/>
<path d="M377.90 1009.80V1015.80M374.60 1009.80H381.20M374.60 1015.80H381.20" stroke="#50d850" stroke-width="1.1" fill="none"/>
<circle cx="377.90" cy="1012.80" r="3.45" fill="url(#g_green)"/>
<circle cx="76.60" cy="792.20" r="3.45" fill="url(#g_cyan)"/>
<path d="M155.60 803.61V809.61M152.30 803.61H158.90M152.30 809.61H158.90" stroke="#50d0d0" stroke-width="1.1" fill="none"/>
<circle cx="155.60" cy="806.61" r="3.45" fill="url(#g_cyan)"/>
<path d="M192.65 971.81V977.81M189.35 971.81H195.95M189.35 977.81H195.95" stroke="#50d0d0" stroke-width="1.1" fill="none"/>
<circle cx="192.65" cy="974.81" r="3.45" fill="url(#g_cyan)"/>
<path d="M229.70 1014.52V1020.52M226.40 1014.52H233.00M226.40 1020.52H233.00" stroke="#50d0d0" stroke-width="1.1" fill="none"/>
<circle cx="229.70" cy="1017.52" r="3.45" fill="url(#g_cyan)"/>
<path d="M266.75 1029.19V1035.19M263.45 1029.19H270.05M263.45 1035.19H270.05" stroke="#50d0d0" stroke-width="1.1" fill="none"/>
<circle cx="266.75" cy="1032.19" r="3.45" fill="url(#g_cyan)"/>
<path d="M303.80 1033.38V1039.38M300.50 1033.38H307.10M300.50 1039.38H307.10" stroke="#50d0d0" stroke-width="1.1" fill="none"/>
<circle cx="303.80" cy="1036.38" r="3.45" fill="url(#g_cyan)"/>
<path d="M340.85 1036.79V1042.79M337.55 1036.79H344.15M337.55 1042.79H344.15" stroke="#50d0d0" stroke-width="1.1" fill="none"/>
<circle cx="340.85" cy="1039.79" r="3.45" fill="url(#g_cyan)"/>
<path d="M377.90 1036.79V1042.79M374.60 1036.79H381.20M374.60 1042.79H381.20" stroke="#50d0d0" stroke-width="1.1" fill="none"/>
<circle cx="377.90" cy="1039.79" r="3.45" fill="url(#g_cyan)"/>
<circle cx="76.60" cy="792.20" r="3.45" fill="url(#g_blue)"/>
<path d="M155.60 800.99V806.99M152.30 800.99H158.90M152.30 806.99H158.90" stroke="#3030d8" stroke-width="1.1" fill="none"/>
<circle cx="155.60" cy="803.99" r="3.45" fill="url(#g_blue)"/>
<path d="M192.65 954.38V964.86M189.35 954.38H195.95M189.35 964.86H195.95" stroke="#3030d8" stroke-width="1.1" fill="none"/>
<circle cx="192.65" cy="959.62" r="3.45" fill="url(#g_blue)"/>
<path d="M229.70 987.39V997.87M226.40 987.39H233.00M226.40 997.87H233.00" stroke="#3030d8" stroke-width="1.1" fill="none"/>
<circle cx="229.70" cy="992.63" r="3.45" fill="url(#g_blue)"/>
<circle cx="266.75" cy="1005.21" r="3.45" fill="url(#g_blue)"/>
<circle cx="303.80" cy="1012.02" r="3.45" fill="url(#g_blue)"/>
<path d="M340.85 1014.11V1021.97M337.55 1014.11H344.15M337.55 1021.97H344.15" stroke="#3030d8" stroke-width="1.1" fill="none"/>
<circle cx="340.85" cy="1018.04" r="3.45" fill="url(#g_blue)"/>
<path d="M377.90 1019.50V1025.50M374.60 1019.50H381.20M374.60 1025.50H381.20" stroke="#3030d8" stroke-width="1.1" fill="none"/>
<circle cx="377.90" cy="1022.50" r="3.45" fill="url(#g_blue)"/>
<circle cx="76.60" cy="792.20" r="3.45" fill="url(#g_black)"/>
<path d="M155.60 794.82V805.30M152.30 794.82H158.90M152.30 805.30H158.90" stroke="#111111" stroke-width="1.1" fill="none"/>
<circle cx="155.60" cy="800.06" r="3.45" fill="url(#g_black)"/>
<path d="M192.65 855.49V861.49M189.35 855.49H195.95M189.35 861.49H195.95" stroke="#111111" stroke-width="1.1" fill="none"/>
<circle cx="192.65" cy="858.49" r="3.45" fill="url(#g_black)"/>
<path d="M229.70 886.26V896.74M226.40 886.26H233.00M226.40 896.74H233.00" stroke="#111111" stroke-width="1.1" fill="none"/>
<circle cx="229.70" cy="891.50" r="3.45" fill="url(#g_black)"/>
<path d="M266.75 914.96V920.96M263.45 914.96H270.05M263.45 920.96H270.05" stroke="#111111" stroke-width="1.1" fill="none"/>
<circle cx="266.75" cy="917.96" r="3.45" fill="url(#g_black)"/>
<path d="M303.80 923.72V934.20M300.50 923.72H307.10M300.50 934.20H307.10" stroke="#111111" stroke-width="1.1" fill="none"/>
<circle cx="303.80" cy="928.96" r="3.45" fill="url(#g_black)"/>
<path d="M340.85 931.47V937.47M337.55 931.47H344.15M337.55 937.47H344.15" stroke="#111111" stroke-width="1.1" fill="none"/>
<circle cx="340.85" cy="934.47" r="3.45" fill="url(#g_black)"/>
<path d="M377.90 936.71V942.71M374.60 936.71H381.20M374.60 942.71H381.20" stroke="#111111" stroke-width="1.1" fill="none"/>
<circle cx="377.90" cy="939.71" r="3.45" fill="url(#g_black)"/>
<circle cx="76.60" cy="792.20" r="3.45" fill="url(#g_mag)"/>
<path d="M155.60 807.54V813.54M152.30 807.54H158.90M152.30 813.54H158.90" stroke="#c840c8" stroke-width="1.1" fill="none"/>
<circle cx="155.60" cy="810.54" r="3.45" fill="url(#g_mag)"/>
<path d="M192.65 966.31V972.31M189.35 966.31H195.95M189.35 972.31H195.95" stroke="#c840c8" stroke-width="1.1" fill="none"/>
<circle cx="192.65" cy="969.31" r="3.45" fill="url(#g_mag)"/>
<path d="M229.70 1006.40V1012.40M226.40 1006.40H233.00M226.40 1012.40H233.00" stroke="#c840c8" stroke-width="1.1" fill="none"/>
<circle cx="229.70" cy="1009.40" r="3.45" fill="url(#g_mag)"/>
<circle cx="266.75" cy="1017.52" r="3.45" fill="url(#g_mag)"/>
<path d="M303.80 1019.50V1025.50M300.50 1019.50H307.10M300.50 1025.50H307.10" stroke="#c840c8" stroke-width="1.1" fill="none"/>
<circle cx="303.80" cy="1022.50" r="3.45" fill="url(#g_mag)"/>
<path d="M340.85 1027.10V1033.10M337.55 1027.10H344.15M337.55 1033.10H344.15" stroke="#c840c8" stroke-width="1.1" fill="none"/>
<circle cx="340.85" cy="1030.10" r="3.45" fill="url(#g_mag)"/>
<path d="M377.90 1030.24V1036.24M374.60 1030.24H381.20M374.60 1036.24H381.20" stroke="#c840c8" stroke-width="1.1" fill="none"/>
<circle cx="377.90" cy="1033.24" r="3.45" fill="url(#g_mag)"/>
</g>
<line x1="92.80" y1="954.00" x2="92.80" y2="1015.70" stroke="#000" stroke-width="1.7"/>
<polygon points="88.40,1013.70 97.20,1013.70 92.80,1031.50" fill="#000"/>
<path d="M99.90 952.20H111.00M120.20 952.20H130.90" stroke="#202020" stroke-width="1.0" fill="none"/>
<circle cx="115.60" cy="952.20" r="3.4" fill="url(#g_black)"/>
<text x="134.70" y="957.20" font-family='"Liberation Sans", sans-serif' font-size="14" text-anchor="start" font-weight="normal" font-style="normal" >0.5 g/L</text>
<path d="M99.90 969.06H111.00M120.20 969.06H130.90" stroke="#e04040" stroke-width="1.0" fill="none"/>
<circle cx="115.60" cy="969.06" r="3.4" fill="url(#g_red)"/>
<text x="134.70" y="974.06" font-family='"Liberation Sans", sans-serif' font-size="14" text-anchor="start" font-weight="normal" font-style="normal" >1.0 g/L</text>
<path d="M99.90 985.92H111.00M120.20 985.92H130.90" stroke="#50d850" stroke-width="1.0" fill="none"/>
<circle cx="115.60" cy="985.92" r="3.4" fill="url(#g_green)"/>
<text x="134.70" y="990.92" font-family='"Liberation Sans", sans-serif' font-size="14" text-anchor="start" font-weight="normal" font-style="normal" >2.0 g/L</text>
<path d="M99.90 1002.78H111.00M120.20 1002.78H130.90" stroke="#3030d8" stroke-width="1.0" fill="none"/>
<circle cx="115.60" cy="1002.78" r="3.4" fill="url(#g_blue)"/>
<text x="134.70" y="1007.78" font-family='"Liberation Sans", sans-serif' font-size="14" text-anchor="start" font-weight="normal" font-style="normal" >3.0 g/L</text>
<path d="M99.90 1019.64H111.00M120.20 1019.64H130.90" stroke="#c840c8" stroke-width="1.0" fill="none"/>
<circle cx="115.60" cy="1019.64" r="3.4" fill="url(#g_mag)"/>
<text x="134.70" y="1024.64" font-family='"Liberation Sans", sans-serif' font-size="14" text-anchor="start" font-weight="normal" font-style="normal" >5.0 g/L</text>
<path d="M99.90 1036.50H111.00M120.20 1036.50H130.90" stroke="#50d0d0" stroke-width="1.0" fill="none"/>
<circle cx="115.60" cy="1036.50" r="3.4" fill="url(#g_cyan)"/>
<text x="134.70" y="1041.50" font-family='"Liberation Sans", sans-serif' font-size="14" text-anchor="start" font-weight="normal" font-style="normal" >4.0 g/L</text>
<text x="409.00" y="25.50" font-family='"Liberation Serif", serif' font-size="30" text-anchor="start" font-weight="bold" font-style="normal" >(b)</text>
<rect x="473.80" y="14.70" width="311.20" height="290.80" fill="none" stroke="#111111" stroke-width="1.8"/>
<line x1="473.80" y1="305.50" x2="478.80" y2="305.50" stroke="#111111" stroke-width="1.5"/>
<text x="468.30" y="310.10" font-family='"Liberation Sans", sans-serif' font-size="17" text-anchor="end" font-weight="normal" font-style="normal" >0</text>
<line x1="473.80" y1="215.70" x2="478.80" y2="215.70" stroke="#111111" stroke-width="1.5"/>
<text x="468.30" y="220.30" font-family='"Liberation Sans", sans-serif' font-size="17" text-anchor="end" font-weight="normal" font-style="normal" >1</text>
<line x1="473.80" y1="125.90" x2="478.80" y2="125.90" stroke="#111111" stroke-width="1.5"/>
<text x="468.30" y="130.50" font-family='"Liberation Sans", sans-serif' font-size="17" text-anchor="end" font-weight="normal" font-style="normal" >2</text>
<line x1="473.80" y1="36.10" x2="478.80" y2="36.10" stroke="#111111" stroke-width="1.5"/>
<text x="468.30" y="40.70" font-family='"Liberation Sans", sans-serif' font-size="17" text-anchor="end" font-weight="normal" font-style="normal" >3</text>
<line x1="473.80" y1="260.60" x2="476.40" y2="260.60" stroke="#111111" stroke-width="1.5"/>
<line x1="473.80" y1="170.80" x2="476.40" y2="170.80" stroke="#111111" stroke-width="1.5"/>
<line x1="473.80" y1="81.00" x2="476.40" y2="81.00" stroke="#111111" stroke-width="1.5"/>
<line x1="484.70" y1="305.50" x2="484.70" y2="300.50" stroke="#111111" stroke-width="1.5"/>
<text x="484.70" y="324.00" font-family='"Liberation Sans", sans-serif' font-size="17" text-anchor="middle" font-weight="normal" font-style="normal" >0.0</text>
<line x1="570.40" y1="305.50" x2="570.40" y2="300.50" stroke="#111111" stroke-width="1.5"/>
<text x="570.40" y="324.00" font-family='"Liberation Sans", sans-serif' font-size="17" text-anchor="middle" font-weight="normal" font-style="normal" >0.4</text>
<line x1="656.10" y1="305.50" x2="656.10" y2="300.50" stroke="#111111" stroke-width="1.5"/>
<text x="656.10" y="324.00" font-family='"Liberation Sans", sans-serif' font-size="17" text-anchor="middle" font-weight="normal" font-style="normal" >0.8</text>
<line x1="741.80" y1="305.50" x2="741.80" y2="300.50" stroke="#111111" stroke-width="1.5"/>
<text x="741.80" y="324.00" font-family='"Liberation Sans", sans-serif' font-size="17" text-anchor="middle" font-weight="normal" font-style="normal" >1.2</text>
<line x1="527.55" y1="305.50" x2="527.55" y2="302.90" stroke="#111111" stroke-width="1.5"/>
<line x1="613.25" y1="305.50" x2="613.25" y2="302.90" stroke="#111111" stroke-width="1.5"/>
<line x1="698.95" y1="305.50" x2="698.95" y2="302.90" stroke="#111111" stroke-width="1.5"/>
<text x="563.60" y="344.80" font-family='"Liberation Sans", sans-serif' font-size="20" text-anchor="start" font-weight="normal" font-style="normal" textLength="146.7" lengthAdjust="spacingAndGlyphs">Vibration time / h</text>
<text transform="translate(447.50,207.90) rotate(-90)" font-family='"Liberation Sans", sans-serif' font-size="20" text-anchor="start">-Ln(C/C<tspan font-size="12" dy="7">0</tspan><tspan dy="-7">)</tspan></text>
<clipPath id="cp4"><rect x="473.80" y="14.70" width="311.20" height="290.80"/></clipPath><g clip-path="url(#cp4)">
<circle cx="484.70" cy="305.50" r="3.45" fill="url(#g_blue)"/>
<circle cx="538.26" cy="298.32" r="3.45" fill="url(#g_blue)"/>
<circle cx="591.83" cy="292.03" r="3.45" fill="url(#g_blue)"/>
<circle cx="645.39" cy="288.44" r="3.45" fill="url(#g_blue)"/>
<circle cx="698.95" cy="285.74" r="3.45" fill="url(#g_blue)"/>
<circle cx="538.26" cy="292.03" r="3.45" fill="url(#g_green)"/>
<circle cx="591.83" cy="283.05" r="3.45" fill="url(#g_green)"/>
<circle cx="645.39" cy="270.48" r="3.45" fill="url(#g_green)"/>
<circle cx="698.95" cy="264.19" r="3.45" fill="url(#g_green)"/>
<path d="M538.26 249.52V255.52M534.96 249.52H541.56M534.96 255.52H541.56" stroke="#e04040" stroke-width="1.1" fill="none"/>
<circle cx="538.26" cy="252.52" r="3.45" fill="url(#g_red)"/>
<path d="M591.83 213.90V221.09M588.53 213.90H595.12M588.53 221.09H595.12" stroke="#e04040" stroke-width="1.1" fill="none"/>
<circle cx="591.83" cy="217.50" r="3.45" fill="url(#g_red)"/>
<path d="M645.39 199.23V205.23M642.09 199.23H648.69M642.09 205.23H648.69" stroke="#e04040" stroke-width="1.1" fill="none"/>
<circle cx="645.39" cy="202.23" r="3.45" fill="url(#g_red)"/>
<path d="M698.95 182.17V188.17M695.65 182.17H702.25M695.65 188.17H702.25" stroke="#e04040" stroke-width="1.1" fill="none"/>
<circle cx="698.95" cy="185.17" r="3.45" fill="url(#g_red)"/>
<path d="M538.26 201.33V210.31M534.96 201.33H541.56M534.96 210.31H541.56" stroke="#111111" stroke-width="1.1" fill="none"/>
<circle cx="538.26" cy="205.82" r="3.45" fill="url(#g_black)"/>
<path d="M591.83 136.68V149.25M588.53 136.68H595.12M588.53 149.25H595.12" stroke="#111111" stroke-width="1.1" fill="none"/>
<circle cx="591.83" cy="142.96" r="3.45" fill="url(#g_black)"/>
<path d="M645.39 107.04V125.00M642.09 107.04H648.69M642.09 125.00H648.69" stroke="#111111" stroke-width="1.1" fill="none"/>
<circle cx="645.39" cy="116.02" r="3.45" fill="url(#g_black)"/>
<path d="M698.95 81.90V89.08M695.65 81.90H702.25M695.65 89.08H702.25" stroke="#111111" stroke-width="1.1" fill="none"/>
<circle cx="698.95" cy="85.49" r="3.45" fill="url(#g_black)"/>
<line x1="473.80" y1="278.74" x2="721.70" y2="39.20" stroke="#d81e2a" stroke-width="1.8"/>
<line x1="473.80" y1="295.98" x2="721.20" y2="163.50" stroke="#d81e2a" stroke-width="1.8"/>
<line x1="473.80" y1="305.50" x2="719.60" y2="257.20" stroke="#d81e2a" stroke-width="1.8"/>
<line x1="473.80" y1="305.50" x2="719.60" y2="281.80" stroke="#d81e2a" stroke-width="1.8"/>
</g>
<line x1="505.00" y1="54.60" x2="505.00" y2="110.00" stroke="#000" stroke-width="1.7"/>
<polygon points="500.80,108.00 509.20,108.00 505.00,127.10" fill="#000"/>
<circle cx="518.30" cy="61.00" r="3.2" fill="url(#g_black)"/>
<text x="537.80" y="66.00" font-family='"Liberation Sans", sans-serif' font-size="14" text-anchor="start" font-weight="normal" font-style="normal" >5 ppm</text>
<circle cx="518.30" cy="77.70" r="3.2" fill="url(#g_red)"/>
<text x="537.80" y="82.70" font-family='"Liberation Sans", sans-serif' font-size="14" text-anchor="start" font-weight="normal" font-style="normal" >10 ppm</text>
<circle cx="518.30" cy="94.40" r="3.2" fill="url(#g_green)"/>
<text x="537.80" y="99.40" font-family='"Liberation Sans", sans-serif' font-size="14" text-anchor="start" font-weight="normal" font-style="normal" >20 ppm</text>
<circle cx="518.30" cy="111.10" r="3.2" fill="url(#g_blue)"/>
<text x="537.80" y="116.10" font-family='"Liberation Sans", sans-serif' font-size="14" text-anchor="start" font-weight="normal" font-style="normal" >40 ppm</text>
<text x="726.00" y="28.30" font-family='"Liberation Sans", sans-serif' font-size="14"><tspan font-style="italic">k</tspan><tspan font-size="8" dy="5">app</tspan><tspan dy="-5"> / h</tspan><tspan font-size="7" dy="-7.5">-1</tspan></text>
<text x="725.20" y="52.70" font-family='"Liberation Sans", sans-serif' font-size="13.7">2.36 h<tspan font-size="7" dy="-7.5">-1</tspan></text>
<text x="725.20" y="166.30" font-family='"Liberation Sans", sans-serif' font-size="13.7">1.29 h<tspan font-size="7" dy="-7.5">-1</tspan></text>
<text x="723.00" y="259.60" font-family='"Liberation Sans", sans-serif' font-size="13.7">0.47 h<tspan font-size="7" dy="-7.5">-1</tspan></text>
<text x="723.00" y="287.30" font-family='"Liberation Sans", sans-serif' font-size="13.7">0.22 h<tspan font-size="7" dy="-7.5">-1</tspan></text>
<text x="409.20" y="393.00" font-family='"Liberation Serif", serif' font-size="30" text-anchor="start" font-weight="bold" font-style="normal" >(d)</text>
<rect x="473.60" y="380.90" width="311.40" height="291.50" fill="none" stroke="#111111" stroke-width="1.8"/>
<line x1="473.60" y1="659.50" x2="478.60" y2="659.50" stroke="#111111" stroke-width="1.5"/>
<text x="468.10" y="664.10" font-family='"Liberation Sans", sans-serif' font-size="17" text-anchor="end" font-weight="normal" font-style="normal" >0</text>
<line x1="473.60" y1="533.00" x2="478.60" y2="533.00" stroke="#111111" stroke-width="1.5"/>
<text x="468.10" y="537.60" font-family='"Liberation Sans", sans-serif' font-size="17" text-anchor="end" font-weight="normal" font-style="normal" >1</text>
<line x1="473.60" y1="406.50" x2="478.60" y2="406.50" stroke="#111111" stroke-width="1.5"/>
<text x="468.10" y="411.10" font-family='"Liberation Sans", sans-serif' font-size="17" text-anchor="end" font-weight="normal" font-style="normal" >2</text>
<line x1="473.60" y1="596.25" x2="476.20" y2="596.25" stroke="#111111" stroke-width="1.5"/>
<line x1="473.60" y1="469.75" x2="476.20" y2="469.75" stroke="#111111" stroke-width="1.5"/>
<line x1="483.70" y1="672.40" x2="483.70" y2="667.40" stroke="#111111" stroke-width="1.5"/>
<text x="483.70" y="690.90" font-family='"Liberation Sans", sans-serif' font-size="17" text-anchor="middle" font-weight="normal" font-style="normal" >0.0</text>
<line x1="566.90" y1="672.40" x2="566.90" y2="667.40" stroke="#111111" stroke-width="1.5"/>
<text x="566.90" y="690.90" font-family='"Liberation Sans", sans-serif' font-size="17" text-anchor="middle" font-weight="normal" font-style="normal" >0.4</text>
<line x1="650.10" y1="672.40" x2="650.10" y2="667.40" stroke="#111111" stroke-width="1.5"/>
<text x="650.10" y="690.90" font-family='"Liberation Sans", sans-serif' font-size="17" text-anchor="middle" font-weight="normal" font-style="normal" >0.8</text>
<line x1="733.30" y1="672.40" x2="733.30" y2="667.40" stroke="#111111" stroke-width="1.5"/>
<text x="733.30" y="690.90" font-family='"Liberation Sans", sans-serif' font-size="17" text-anchor="middle" font-weight="normal" font-style="normal" >1.2</text>
<line x1="525.30" y1="672.40" x2="525.30" y2="669.80" stroke="#111111" stroke-width="1.5"/>
<line x1="608.50" y1="672.40" x2="608.50" y2="669.80" stroke="#111111" stroke-width="1.5"/>
<line x1="691.70" y1="672.40" x2="691.70" y2="669.80" stroke="#111111" stroke-width="1.5"/>
<line x1="774.90" y1="672.40" x2="774.90" y2="669.80" stroke="#111111" stroke-width="1.5"/>
<text x="565.20" y="708.70" font-family='"Liberation Sans", sans-serif' font-size="20" text-anchor="start" font-weight="normal" font-style="normal" textLength="146.7" lengthAdjust="spacingAndGlyphs">Vibration time / h</text>
<text transform="translate(450.30,569.80) rotate(-90)" font-family='"Liberation Sans", sans-serif' font-size="20" text-anchor="start">-Ln(C/C<tspan font-size="12" dy="7">0</tspan><tspan dy="-7">)</tspan></text>
<clipPath id="cp5"><rect x="473.60" y="380.90" width="311.40" height="291.50"/></clipPath><g clip-path="url(#cp5)">
<circle cx="483.70" cy="659.50" r="3.45" fill="url(#g_cyan)"/>
<circle cx="535.70" cy="657.48" r="3.45" fill="url(#g_cyan)"/>
<circle cx="587.70" cy="648.62" r="3.45" fill="url(#g_cyan)"/>
<circle cx="639.70" cy="642.30" r="3.45" fill="url(#g_cyan)"/>
<circle cx="691.70" cy="639.26" r="3.45" fill="url(#g_cyan)"/>
<circle cx="535.70" cy="645.21" r="3.45" fill="url(#g_blue)"/>
<circle cx="587.70" cy="623.57" r="3.45" fill="url(#g_blue)"/>
<circle cx="639.70" cy="597.51" r="3.45" fill="url(#g_blue)"/>
<path d="M691.70 571.37V577.37M688.40 571.37H695.00M688.40 577.37H695.00" stroke="#3030d8" stroke-width="1.1" fill="none"/>
<circle cx="691.70" cy="574.37" r="3.45" fill="url(#g_blue)"/>
<path d="M535.70 580.94V588.53M532.40 580.94H539.00M532.40 588.53H539.00" stroke="#111111" stroke-width="1.1" fill="none"/>
<circle cx="535.70" cy="584.74" r="3.45" fill="url(#g_black)"/>
<path d="M587.70 529.20V541.86M584.40 529.20H591.00M584.40 541.86H591.00" stroke="#111111" stroke-width="1.1" fill="none"/>
<circle cx="587.70" cy="535.53" r="3.45" fill="url(#g_black)"/>
<path d="M639.70 508.84V518.96M636.40 508.84H643.00M636.40 518.96H643.00" stroke="#111111" stroke-width="1.1" fill="none"/>
<circle cx="639.70" cy="513.90" r="3.45" fill="url(#g_black)"/>
<path d="M691.70 487.37V493.37M688.40 487.37H695.00M688.40 493.37H695.00" stroke="#111111" stroke-width="1.1" fill="none"/>
<circle cx="691.70" cy="490.37" r="3.45" fill="url(#g_black)"/>
<path d="M535.70 567.06V573.06M532.40 567.06H539.00M532.40 573.06H539.00" stroke="#e04040" stroke-width="1.1" fill="none"/>
<circle cx="535.70" cy="570.06" r="3.45" fill="url(#g_red)"/>
<path d="M587.70 509.38V515.38M584.40 509.38H591.00M584.40 515.38H591.00" stroke="#e04040" stroke-width="1.1" fill="none"/>
<circle cx="587.70" cy="512.38" r="3.45" fill="url(#g_red)"/>
<path d="M639.70 478.51V484.51M636.40 478.51H643.00M636.40 484.51H643.00" stroke="#e04040" stroke-width="1.1" fill="none"/>
<circle cx="639.70" cy="481.51" r="3.45" fill="url(#g_red)"/>
<path d="M535.70 557.79V565.38M532.40 557.79H539.00M532.40 565.38H539.00" stroke="#50d850" stroke-width="1.1" fill="none"/>
<circle cx="535.70" cy="561.59" r="3.45" fill="url(#g_green)"/>
<path d="M587.70 478.61V493.78M584.40 478.61H591.00M584.40 493.78H591.00" stroke="#50d850" stroke-width="1.1" fill="none"/>
<circle cx="587.70" cy="486.19" r="3.45" fill="url(#g_green)"/>
<path d="M639.70 456.76V462.76M636.40 456.76H643.00M636.40 462.76H643.00" stroke="#50d850" stroke-width="1.1" fill="none"/>
<circle cx="639.70" cy="459.76" r="3.45" fill="url(#g_green)"/>
<line x1="473.60" y1="655.60" x2="655.80" y2="419.40" stroke="#d81e2a" stroke-width="1.8"/>
<line x1="473.60" y1="655.60" x2="655.80" y2="449.80" stroke="#d81e2a" stroke-width="1.8"/>
<line x1="473.60" y1="646.10" x2="712.90" y2="457.90" stroke="#d81e2a" stroke-width="1.8"/>
<line x1="473.60" y1="667.90" x2="712.30" y2="567.50" stroke="#d81e2a" stroke-width="1.8"/>
<line x1="473.60" y1="660.30" x2="712.50" y2="636.30" stroke="#d81e2a" stroke-width="1.8"/>
</g>
<line x1="498.00" y1="407.00" x2="498.00" y2="473.80" stroke="#000" stroke-width="1.7"/>
<polygon points="493.80,471.80 502.20,471.80 498.00,489.60" fill="#000"/>
<circle cx="511.90" cy="412.60" r="3.2" fill="url(#g_green)"/>
<text x="531.50" y="417.60" font-family='"Liberation Sans", sans-serif' font-size="14" text-anchor="start" font-weight="normal" font-style="normal" >pH=3.0</text>
<circle cx="511.90" cy="429.45" r="3.2" fill="url(#g_red)"/>
<text x="531.50" y="434.45" font-family='"Liberation Sans", sans-serif' font-size="14" text-anchor="start" font-weight="normal" font-style="normal" >pH=2.0</text>
<circle cx="511.90" cy="446.30" r="3.2" fill="url(#g_black)"/>
<text x="531.50" y="451.30" font-family='"Liberation Sans", sans-serif' font-size="14" text-anchor="start" font-weight="normal" font-style="normal" >pH=5.0</text>
<circle cx="511.90" cy="463.15" r="3.2" fill="url(#g_blue)"/>
<text x="531.50" y="468.15" font-family='"Liberation Sans", sans-serif' font-size="14" text-anchor="start" font-weight="normal" font-style="normal" >pH=7.0</text>
<circle cx="511.90" cy="480.00" r="3.2" fill="url(#g_cyan)"/>
<text x="531.50" y="485.00" font-family='"Liberation Sans", sans-serif' font-size="14" text-anchor="start" font-weight="normal" font-style="normal" >pH=9.0</text>
<text x="651.10" y="399.00" font-family='"Liberation Sans", sans-serif' font-size="14"><tspan font-style="italic">k</tspan><tspan font-size="8" dy="5">app</tspan><tspan dy="-5"> / h</tspan><tspan font-size="7" dy="-7.5">-1</tspan></text>
<text x="663.00" y="422.30" font-family='"Liberation Sans", sans-serif' font-size="13.7">2.14 h<tspan font-size="7" dy="-7.5">-1</tspan></text>
<text x="679.60" y="444.80" font-family='"Liberation Sans", sans-serif' font-size="13.7">1.87 h<tspan font-size="7" dy="-7.5">-1</tspan></text>
<text x="720.00" y="467.40" font-family='"Liberation Sans", sans-serif' font-size="13.7">1.29 h<tspan font-size="7" dy="-7.5">-1</tspan></text>
<text x="718.60" y="572.50" font-family='"Liberation Sans", sans-serif' font-size="13.7">0.69 h<tspan font-size="7" dy="-7.5">-1</tspan></text>
<text x="717.00" y="640.90" font-family='"Liberation Sans", sans-serif' font-size="13.7">0.17 h<tspan font-size="7" dy="-7.5">-1</tspan></text>
<text x="408.90" y="755.80" font-family='"Liberation Serif", serif' font-size="30" text-anchor="start" font-weight="bold" font-style="normal" >(f)</text>
<rect x="465.60" y="778.90" width="308.90" height="288.90" fill="none" stroke="#111111" stroke-width="1.8"/>
<line x1="465.60" y1="1063.40" x2="470.60" y2="1063.40" stroke="#111111" stroke-width="1.5"/>
<text x="460.10" y="1068.00" font-family='"Liberation Sans", sans-serif' font-size="17" text-anchor="end" font-weight="normal" font-style="normal" >0</text>
<line x1="465.60" y1="979.70" x2="470.60" y2="979.70" stroke="#111111" stroke-width="1.5"/>
<text x="460.10" y="984.30" font-family='"Liberation Sans", sans-serif' font-size="17" text-anchor="end" font-weight="normal" font-style="normal" >1</text>
<line x1="465.60" y1="896.00" x2="470.60" y2="896.00" stroke="#111111" stroke-width="1.5"/>
<text x="460.10" y="900.60" font-family='"Liberation Sans", sans-serif' font-size="17" text-anchor="end" font-weight="normal" font-style="normal" >2</text>
<line x1="465.60" y1="812.30" x2="470.60" y2="812.30" stroke="#111111" stroke-width="1.5"/>
<text x="460.10" y="816.90" font-family='"Liberation Sans", sans-serif' font-size="17" text-anchor="end" font-weight="normal" font-style="normal" >3</text>
<line x1="465.60" y1="1021.55" x2="468.20" y2="1021.55" stroke="#111111" stroke-width="1.5"/>
<line x1="465.60" y1="937.85" x2="468.20" y2="937.85" stroke="#111111" stroke-width="1.5"/>
<line x1="465.60" y1="854.15" x2="468.20" y2="854.15" stroke="#111111" stroke-width="1.5"/>
<line x1="475.70" y1="1067.80" x2="475.70" y2="1062.80" stroke="#111111" stroke-width="1.5"/>
<text x="475.70" y="1086.30" font-family='"Liberation Sans", sans-serif' font-size="17" text-anchor="middle" font-weight="normal" font-style="normal" >0.0</text>
<line x1="560.90" y1="1067.80" x2="560.90" y2="1062.80" stroke="#111111" stroke-width="1.5"/>
<text x="560.90" y="1086.30" font-family='"Liberation Sans", sans-serif' font-size="17" text-anchor="middle" font-weight="normal" font-style="normal" >0.4</text>
<line x1="646.10" y1="1067.80" x2="646.10" y2="1062.80" stroke="#111111" stroke-width="1.5"/>
<text x="646.10" y="1086.30" font-family='"Liberation Sans", sans-serif' font-size="17" text-anchor="middle" font-weight="normal" font-style="normal" >0.8</text>
<line x1="731.30" y1="1067.80" x2="731.30" y2="1062.80" stroke="#111111" stroke-width="1.5"/>
<text x="731.30" y="1086.30" font-family='"Liberation Sans", sans-serif' font-size="17" text-anchor="middle" font-weight="normal" font-style="normal" >1.2</text>
<line x1="518.30" y1="1067.80" x2="518.30" y2="1065.20" stroke="#111111" stroke-width="1.5"/>
<line x1="603.50" y1="1067.80" x2="603.50" y2="1065.20" stroke="#111111" stroke-width="1.5"/>
<line x1="688.70" y1="1067.80" x2="688.70" y2="1065.20" stroke="#111111" stroke-width="1.5"/>
<text x="559.00" y="1104.60" font-family='"Liberation Sans", sans-serif' font-size="20" text-anchor="start" font-weight="normal" font-style="normal" textLength="146.7" lengthAdjust="spacingAndGlyphs">Vibration time / h</text>
<text transform="translate(441.40,970.20) rotate(-90)" font-family='"Liberation Sans", sans-serif' font-size="20" text-anchor="start">-Ln(C/C<tspan font-size="12" dy="7">0</tspan><tspan dy="-7">)</tspan></text>
<clipPath id="cp6"><rect x="465.60" y="778.90" width="308.90" height="288.90"/></clipPath><g clip-path="url(#cp6)">
<circle cx="528.95" cy="1040.55" r="3.45" fill="url(#g_black)"/>
<circle cx="582.20" cy="1024.81" r="3.45" fill="url(#g_black)"/>
<circle cx="635.45" cy="1011.09" r="3.45" fill="url(#g_black)"/>
<circle cx="688.70" cy="1003.81" r="3.45" fill="url(#g_black)"/>
<path d="M528.95 1010.60V1016.60M525.65 1010.60H532.25M525.65 1016.60H532.25" stroke="#e04040" stroke-width="1.1" fill="none"/>
<circle cx="528.95" cy="1013.60" r="3.45" fill="url(#g_red)"/>
<path d="M582.20 978.63V984.63M578.90 978.63H585.50M578.90 984.63H585.50" stroke="#e04040" stroke-width="1.1" fill="none"/>
<circle cx="582.20" cy="981.63" r="3.45" fill="url(#g_red)"/>
<path d="M635.45 963.89V969.89M632.15 963.89H638.75M632.15 969.89H638.75" stroke="#e04040" stroke-width="1.1" fill="none"/>
<circle cx="635.45" cy="966.89" r="3.45" fill="url(#g_red)"/>
<circle cx="688.70" cy="951.16" r="3.45" fill="url(#g_red)"/>
<circle cx="528.95" cy="997.86" r="3.45" fill="url(#g_green)"/>
<path d="M582.20 950.41V958.78M578.90 950.41H585.50M578.90 958.78H585.50" stroke="#50d850" stroke-width="1.1" fill="none"/>
<circle cx="582.20" cy="954.59" r="3.45" fill="url(#g_green)"/>
<path d="M635.45 936.18V949.57M632.15 936.18H638.75M632.15 949.57H638.75" stroke="#50d850" stroke-width="1.1" fill="none"/>
<circle cx="635.45" cy="942.87" r="3.45" fill="url(#g_green)"/>
<path d="M688.70 926.55V936.59M685.40 926.55H692.00M685.40 936.59H692.00" stroke="#50d850" stroke-width="1.1" fill="none"/>
<circle cx="688.70" cy="931.57" r="3.45" fill="url(#g_green)"/>
<path d="M528.95 965.05V971.75M525.65 965.05H532.25M525.65 971.75H532.25" stroke="#50d0d0" stroke-width="1.1" fill="none"/>
<circle cx="528.95" cy="968.40" r="3.45" fill="url(#g_cyan)"/>
<path d="M582.20 900.27V908.64M578.90 900.27H585.50M578.90 908.64H585.50" stroke="#50d0d0" stroke-width="1.1" fill="none"/>
<circle cx="582.20" cy="904.45" r="3.45" fill="url(#g_cyan)"/>
<path d="M635.45 854.32V864.36M632.15 854.32H638.75M632.15 864.36H638.75" stroke="#50d0d0" stroke-width="1.1" fill="none"/>
<circle cx="635.45" cy="859.34" r="3.45" fill="url(#g_cyan)"/>
<circle cx="475.70" cy="1063.40" r="3.45" fill="url(#g_mag)"/>
<path d="M528.95 970.34V976.34M525.65 970.34H532.25M525.65 976.34H532.25" stroke="#c840c8" stroke-width="1.1" fill="none"/>
<circle cx="528.95" cy="973.34" r="3.45" fill="url(#g_mag)"/>
<circle cx="582.20" cy="920.78" r="3.45" fill="url(#g_mag)"/>
<circle cx="635.45" cy="904.45" r="3.45" fill="url(#g_mag)"/>
<path d="M528.95 974.93V988.32M525.65 974.93H532.25M525.65 988.32H532.25" stroke="#3030d8" stroke-width="1.1" fill="none"/>
<circle cx="528.95" cy="981.63" r="3.45" fill="url(#g_blue)"/>
<path d="M582.20 937.85V954.59M578.90 937.85H585.50M578.90 954.59H585.50" stroke="#3030d8" stroke-width="1.1" fill="none"/>
<circle cx="582.20" cy="946.22" r="3.45" fill="url(#g_blue)"/>
<path d="M635.45 922.95V931.32M632.15 922.95H638.75M632.15 931.32H638.75" stroke="#3030d8" stroke-width="1.1" fill="none"/>
<circle cx="635.45" cy="927.14" r="3.45" fill="url(#g_blue)"/>
<line x1="465.60" y1="1065.00" x2="651.80" y2="828.90" stroke="#d81e2a" stroke-width="1.8"/>
<line x1="465.60" y1="1065.00" x2="649.20" y2="871.00" stroke="#d81e2a" stroke-width="1.8"/>
<line x1="465.60" y1="1065.00" x2="652.30" y2="903.80" stroke="#d81e2a" stroke-width="1.8"/>
<line x1="465.60" y1="1050.00" x2="712.40" y2="898.50" stroke="#d81e2a" stroke-width="1.8"/>
<line x1="465.60" y1="1054.50" x2="711.00" y2="930.60" stroke="#d81e2a" stroke-width="1.8"/>
<line x1="465.60" y1="1063.00" x2="710.80" y2="993.30" stroke="#d81e2a" stroke-width="1.8"/>
</g>
<line x1="498.30" y1="800.20" x2="498.30" y2="869.00" stroke="#000" stroke-width="1.7"/>
<polygon points="493.80,867.00 502.80,867.00 498.30,886.20" fill="#000"/>
<circle cx="517.80" cy="802.30" r="3.2" fill="url(#g_cyan)"/>
<text x="536.90" y="807.30" font-family='"Liberation Sans", sans-serif' font-size="14" text-anchor="start" font-weight="normal" font-style="normal" >4.0 g/L</text>
<circle cx="517.80" cy="819.16" r="3.2" fill="url(#g_mag)"/>
<text x="536.90" y="824.16" font-family='"Liberation Sans", sans-serif' font-size="14" text-anchor="start" font-weight="normal" font-style="normal" >5.0 g/L</text>
<circle cx="517.80" cy="836.02" r="3.2" fill="url(#g_blue)"/>
<text x="536.90" y="841.02" font-family='"Liberation Sans", sans-serif' font-size="14" text-anchor="start" font-weight="normal" font-style="normal" >3.0 g/L</text>
<circle cx="517.80" cy="852.88" r="3.2" fill="url(#g_green)"/>
<text x="536.90" y="857.88" font-family='"Liberation Sans", sans-serif' font-size="14" text-anchor="start" font-weight="normal" font-style="normal" >2.0 g/L</text>
<circle cx="517.80" cy="869.74" r="3.2" fill="url(#g_red)"/>
<text x="536.90" y="874.74" font-family='"Liberation Sans", sans-serif' font-size="14" text-anchor="start" font-weight="normal" font-style="normal" >1.0 g/L</text>
<circle cx="517.80" cy="886.60" r="3.2" fill="url(#g_black)"/>
<text x="536.90" y="891.60" font-family='"Liberation Sans", sans-serif' font-size="14" text-anchor="start" font-weight="normal" font-style="normal" >0.5 g/L</text>
<text x="648.70" y="799.00" font-family='"Liberation Sans", sans-serif' font-size="14"><tspan font-style="italic">k</tspan><tspan font-size="8" dy="5">app</tspan><tspan dy="-5"> / h</tspan><tspan font-size="7" dy="-7.5">-1</tspan></text>
<text x="656.60" y="827.00" font-family='"Liberation Sans", sans-serif' font-size="13.7">3.20 h<tspan font-size="7" dy="-7.5">-1</tspan></text>
<text x="657.70" y="862.20" font-family='"Liberation Sans", sans-serif' font-size="13.7">2.52 h<tspan font-size="7" dy="-7.5">-1</tspan></text>
<text x="660.10" y="895.00" font-family='"Liberation Sans", sans-serif' font-size="13.7">2.12 h<tspan font-size="7" dy="-7.5">-1</tspan></text>
<text x="719.50" y="900.20" font-family='"Liberation Sans", sans-serif' font-size="13.7">1.51 h<tspan font-size="7" dy="-7.5">-1</tspan></text>
<text x="718.30" y="936.30" font-family='"Liberation Sans", sans-serif' font-size="13.7">1.29 h<tspan font-size="7" dy="-7.5">-1</tspan></text>
<text x="716.30" y="996.00" font-family='"Liberation Sans", sans-serif' font-size="13.7">0.71 h<tspan font-size="7" dy="-7.5">-1</tspan></text>
</svg>
</body></html>
